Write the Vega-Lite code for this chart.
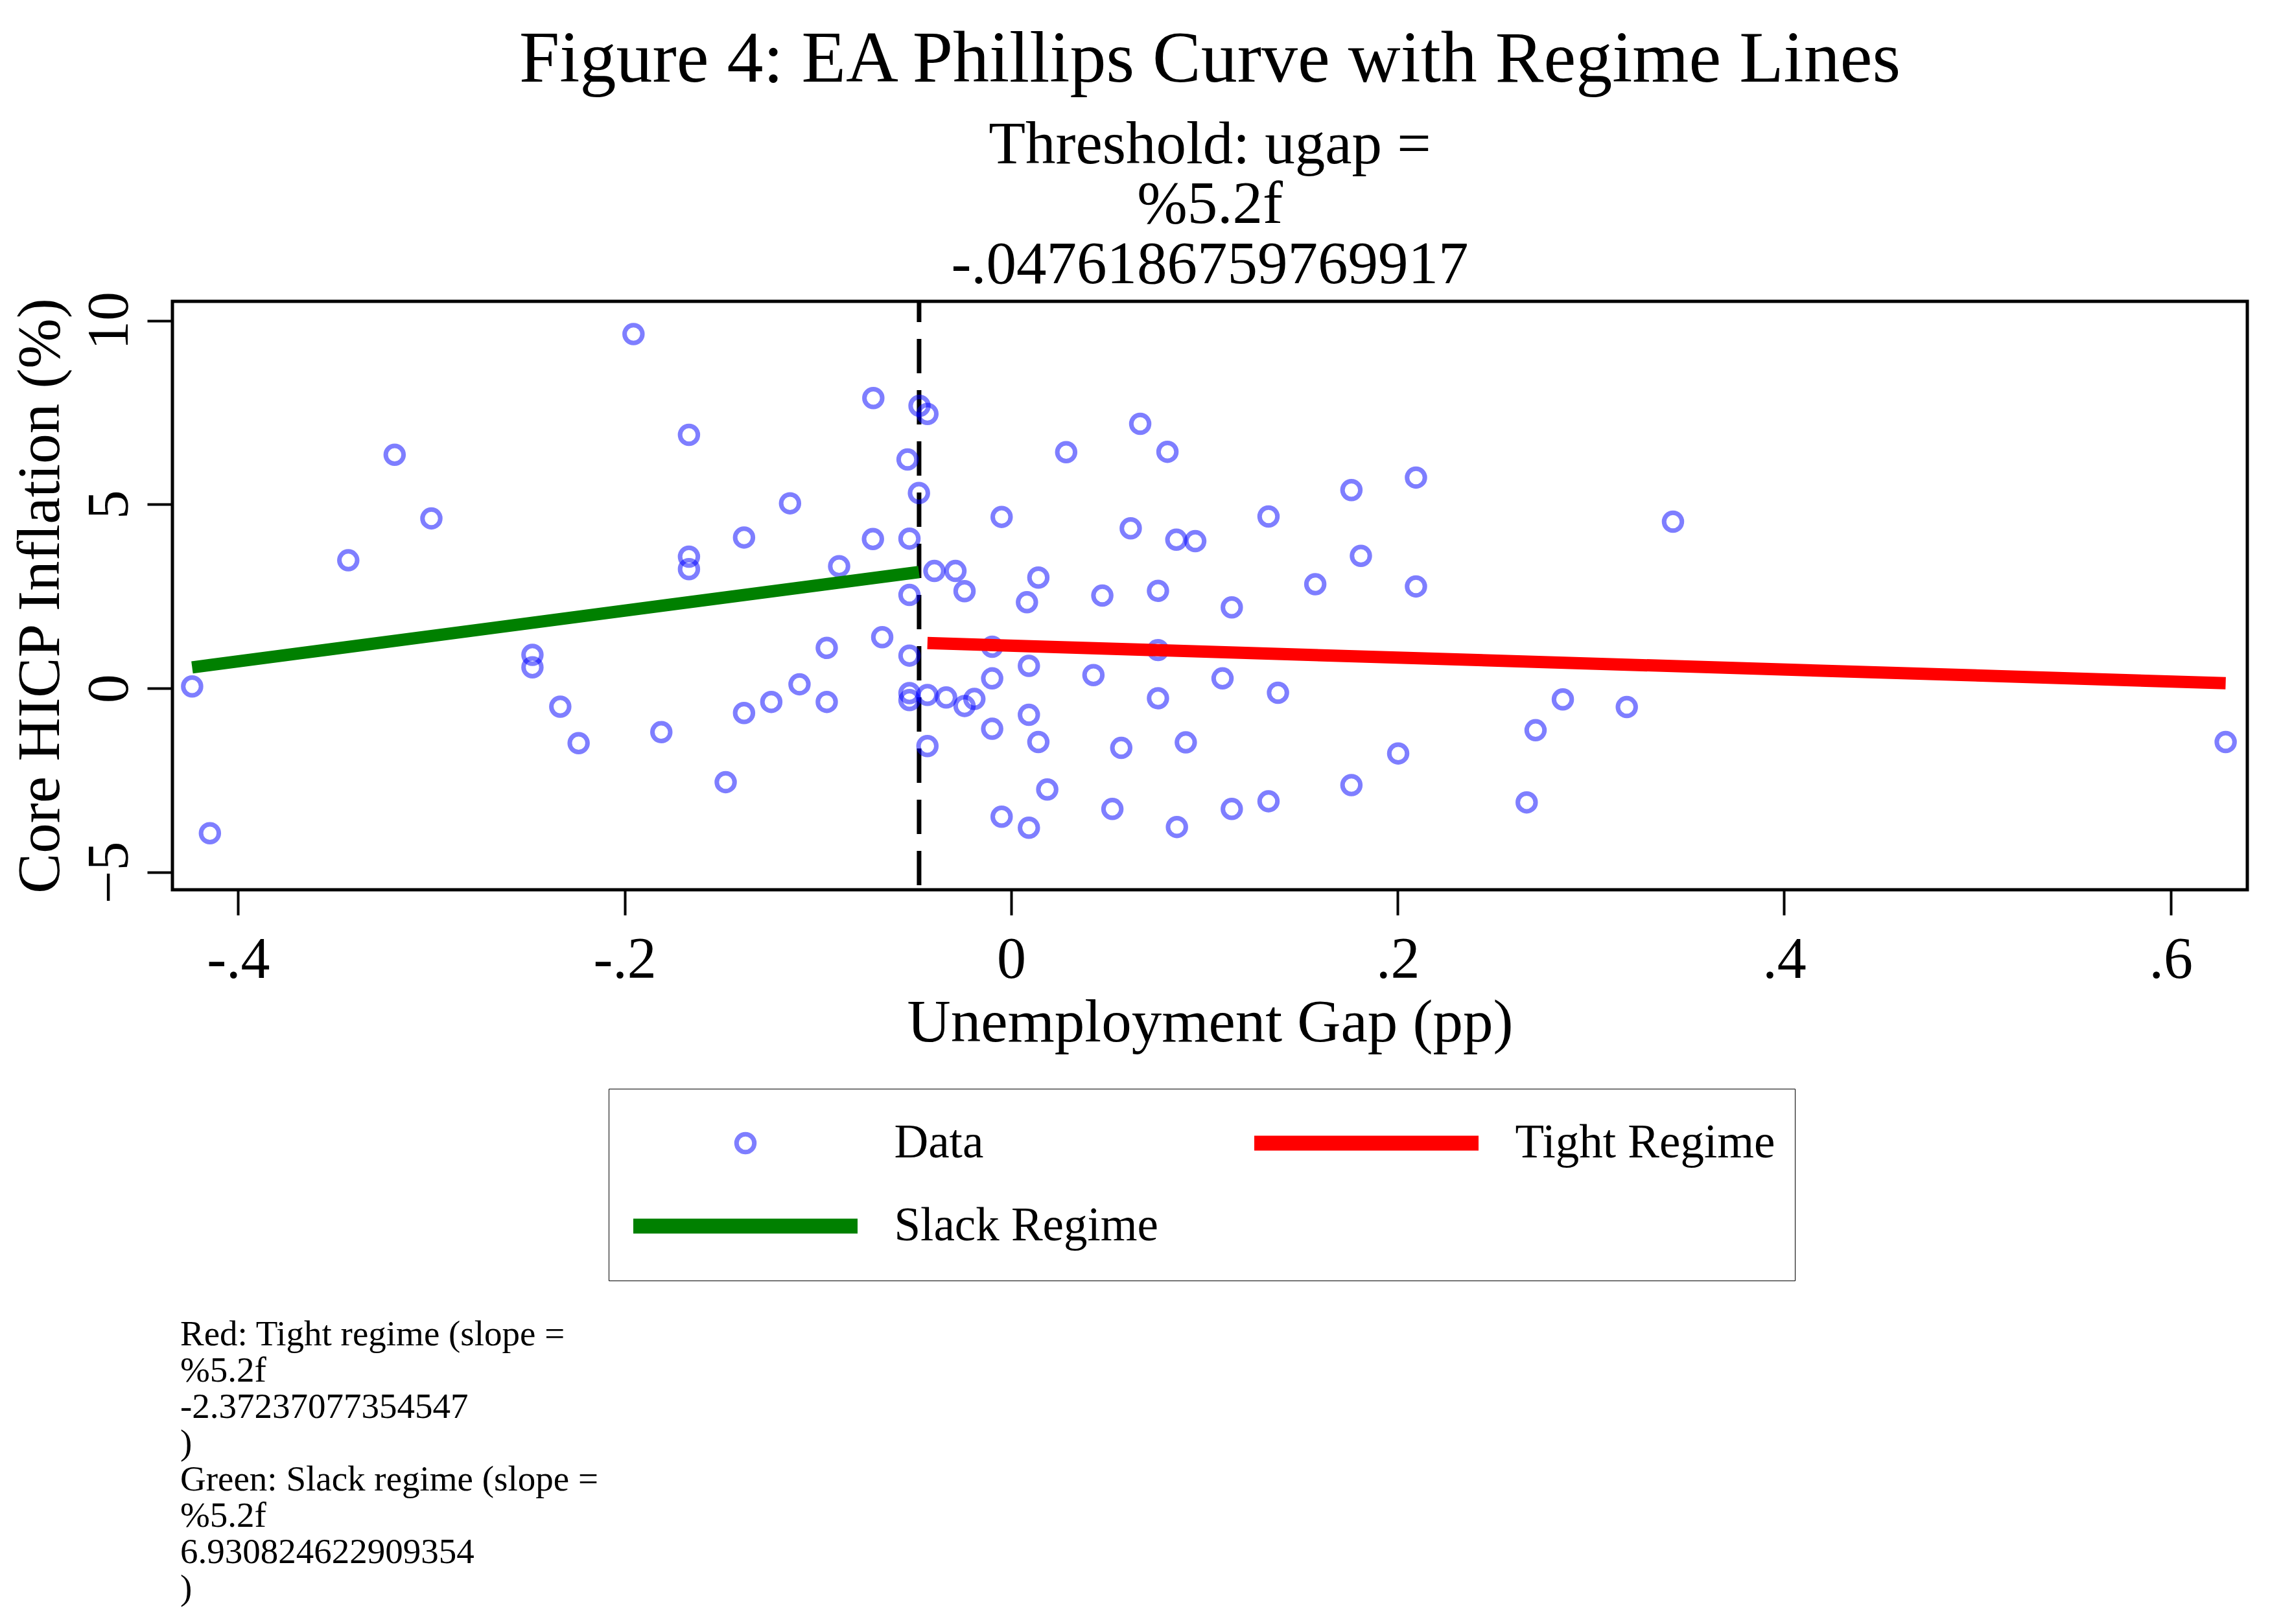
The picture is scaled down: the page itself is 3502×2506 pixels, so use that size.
{
  "$schema": "https://vega.github.io/schema/vega-lite/v6.json",
  "background": "white",
  "padding": {"left": 13, "top": 33, "right": 0, "bottom": 0},
  "spacing": 404,
  "config": {
    "font": "Liberation Serif",
    "view": {"stroke": "black", "strokeWidth": 5},
    "axis": {
      "grid": false,
      "domain": false,
      "tickColor": "black",
      "tickWidth": 4,
      "tickSize": 39,
      "labelColor": "black",
      "titleColor": "black",
      "labelFont": "Liberation Serif",
      "titleFont": "Liberation Serif",
      "titleFontWeight": "normal",
      "labelFontSize": 90,
      "titleFontSize": 93
    }
  },
  "datasets": {
    "obs": [
      {"series": "Data", "gap": -0.1954, "infl": 9.63},
      {"series": "Data", "gap": -0.0713, "infl": 7.89},
      {"series": "Data", "gap": -0.0474, "infl": 7.68},
      {"series": "Data", "gap": -0.0433, "infl": 7.46},
      {"series": "Data", "gap": -0.1667, "infl": 6.89},
      {"series": "Data", "gap": -0.319, "infl": 6.35},
      {"series": "Data", "gap": -0.0536, "infl": 6.22},
      {"series": "Data", "gap": -0.300, "infl": 4.62},
      {"series": "Data", "gap": -0.1144, "infl": 5.03},
      {"series": "Data", "gap": -0.0477, "infl": 5.31},
      {"series": "Data", "gap": -0.1382, "infl": 4.10},
      {"series": "Data", "gap": -0.0715, "infl": 4.06},
      {"series": "Data", "gap": -0.0526, "infl": 4.07},
      {"series": "Data", "gap": -0.343, "infl": 3.48},
      {"series": "Data", "gap": -0.1667, "infl": 3.58},
      {"series": "Data", "gap": -0.1667, "infl": 3.24},
      {"series": "Data", "gap": -0.089, "infl": 3.32},
      {"series": "Data", "gap": -0.0397, "infl": 3.19},
      {"series": "Data", "gap": -0.0526, "infl": 2.54},
      {"series": "Data", "gap": -0.2477, "infl": 0.91},
      {"series": "Data", "gap": -0.2477, "infl": 0.57},
      {"series": "Data", "gap": -0.0667, "infl": 1.39},
      {"series": "Data", "gap": -0.0954, "infl": 1.10},
      {"series": "Data", "gap": -0.0526, "infl": 0.89},
      {"series": "Data", "gap": -0.4238, "infl": 0.05},
      {"series": "Data", "gap": -0.2333, "infl": -0.50},
      {"series": "Data", "gap": -0.1095, "infl": 0.11},
      {"series": "Data", "gap": -0.1241, "infl": -0.37},
      {"series": "Data", "gap": -0.0954, "infl": -0.37},
      {"series": "Data", "gap": -0.1382, "infl": -0.67},
      {"series": "Data", "gap": -0.0526, "infl": -0.13},
      {"series": "Data", "gap": -0.0526, "infl": -0.32},
      {"series": "Data", "gap": -0.0433, "infl": -0.18},
      {"series": "Data", "gap": -0.181, "infl": -1.19},
      {"series": "Data", "gap": -0.2238, "infl": -1.49},
      {"series": "Data", "gap": -0.0433, "infl": -1.57},
      {"series": "Data", "gap": -0.1477, "infl": -2.55},
      {"series": "Data", "gap": -0.4146, "infl": -3.94},
      {"series": "Data", "gap": -0.0288, "infl": 3.19},
      {"series": "Data", "gap": -0.0241, "infl": 2.64},
      {"series": "Data", "gap": -0.0336, "infl": -0.25},
      {"series": "Data", "gap": -0.0241, "infl": -0.48},
      {"series": "Data", "gap": -0.0190, "infl": -0.29},
      {"series": "Data", "gap": -0.0098, "infl": 1.13},
      {"series": "Data", "gap": -0.0098, "infl": 0.27},
      {"series": "Data", "gap": -0.0098, "infl": -1.10},
      {"series": "Data", "gap": -0.0049, "infl": 4.66},
      {"series": "Data", "gap": -0.0049, "infl": -3.49},
      {"series": "Data", "gap": 0.0082, "infl": 2.34},
      {"series": "Data", "gap": 0.0092, "infl": 0.61},
      {"series": "Data", "gap": 0.0092, "infl": -0.72},
      {"series": "Data", "gap": 0.0092, "infl": -3.79},
      {"series": "Data", "gap": 0.0141, "infl": 3.01},
      {"series": "Data", "gap": 0.0141, "infl": -1.46},
      {"series": "Data", "gap": 0.0187, "infl": -2.75},
      {"series": "Data", "gap": 0.0285, "infl": 6.42},
      {"series": "Data", "gap": 0.0426, "infl": 0.36},
      {"series": "Data", "gap": 0.0472, "infl": 2.52},
      {"series": "Data", "gap": 0.0524, "infl": -3.28},
      {"series": "Data", "gap": 0.0570, "infl": -1.62},
      {"series": "Data", "gap": 0.0619, "infl": 4.35},
      {"series": "Data", "gap": 0.0668, "infl": 7.19},
      {"series": "Data", "gap": 0.0760, "infl": 2.65},
      {"series": "Data", "gap": 0.0760, "infl": 1.04},
      {"series": "Data", "gap": 0.0760, "infl": -0.27},
      {"series": "Data", "gap": 0.0809, "infl": 6.43},
      {"series": "Data", "gap": 0.0858, "infl": -3.77},
      {"series": "Data", "gap": 0.0855, "infl": 4.04},
      {"series": "Data", "gap": 0.0953, "infl": 4.00},
      {"series": "Data", "gap": 0.0904, "infl": -1.47},
      {"series": "Data", "gap": 0.1094, "infl": 0.27},
      {"series": "Data", "gap": 0.1142, "infl": 2.20},
      {"series": "Data", "gap": 0.1142, "infl": -3.28},
      {"series": "Data", "gap": 0.1332, "infl": 4.67},
      {"series": "Data", "gap": 0.1332, "infl": -3.07},
      {"series": "Data", "gap": 0.1381, "infl": -0.12},
      {"series": "Data", "gap": 0.1574, "infl": 2.83},
      {"series": "Data", "gap": 0.1761, "infl": 5.39},
      {"series": "Data", "gap": 0.1761, "infl": -2.63},
      {"series": "Data", "gap": 0.1810, "infl": 3.60},
      {"series": "Data", "gap": 0.2003, "infl": -1.77},
      {"series": "Data", "gap": 0.2095, "infl": 5.73},
      {"series": "Data", "gap": 0.2095, "infl": 2.77},
      {"series": "Data", "gap": 0.2668, "infl": -3.10},
      {"series": "Data", "gap": 0.2714, "infl": -1.14},
      {"series": "Data", "gap": 0.2855, "infl": -0.30},
      {"series": "Data", "gap": 0.3186, "infl": -0.51},
      {"series": "Data", "gap": 0.3425, "infl": 4.53},
      {"series": "Data", "gap": 0.6285, "infl": -1.46}
    ],
    "regimes": [
      {"series": "Slack Regime", "gap": -0.4238, "infl": 0.57},
      {"series": "Slack Regime", "gap": -0.0477, "infl": 3.16},
      {"series": "Tight Regime", "gap": -0.0433, "infl": 1.23},
      {"series": "Tight Regime", "gap": 0.6285, "infl": 0.14}
    ]
  },
  "vconcat": [
    {
      "width": 3201,
      "height": 908,
      "title": {
        "text": "Figure 4: EA Phillips Curve with Regime Lines",
        "subtitle": ["Threshold: ugap =", "%5.2f", "-.0476186759769917"],
        "anchor": "middle",
        "frame": "group",
        "font": "Liberation Serif",
        "fontSize": 112,
        "fontWeight": "normal",
        "color": "black",
        "subtitleFont": "Liberation Serif",
        "subtitleFontSize": 93,
        "subtitleLineHeight": 92.5,
        "subtitleColor": "black",
        "subtitlePadding": 29,
        "offset": -8
      },
      "layer": [
        {
          "data": {"values": [{"gap": -0.0476186759769917}]},
          "mark": {"type": "rule", "color": "black", "strokeWidth": 7, "strokeDash": [53, 26], "strokeDashOffset": 21},
          "encoding": {
            "x": {"field": "gap", "type": "quantitative"}
          }
        },
        {
          "data": {"name": "obs"},
          "mark": {"type": "point", "filled": false},
          "encoding": {
            "x": {
              "field": "gap",
              "type": "quantitative",
              "scale": {"domain": [-0.434, 0.6397], "nice": false, "zero": false},
              "axis": {
                "values": [-0.4, -0.2, 0, 0.2, 0.4, 0.6],
                "labelExpr": "datum.value == 0 ? '0' : (datum.value < 0 ? '-' : '') + '.' + format(abs(datum.value) * 10, 'd')",
                "labelPadding": 25,
                "labelFlush": false,
                "title": "Unemployment Gap (pp)",
                "titlePadding": 7
              }
            },
            "y": {
              "field": "infl",
              "type": "quantitative",
              "scale": {"domain": [-5.476, 10.52], "nice": false, "zero": false},
              "axis": {
                "values": [-5, 0, 5, 10],
                "format": "d",
                "labelAngle": 270,
                "labelAlign": "center",
                "labelBaseline": "alphabetic",
                "labelPadding": 31,
                "title": "Core HICP Inflation (%)",
                "titleBaseline": "alphabetic",
                "titlePadding": 34
              }
            },
            "color": {
              "field": "series",
              "type": "nominal",
              "scale": {"domain": ["Data", "Tight Regime", "Slack Regime"], "range": ["#0000ff", "#ff0000", "#008000"]},
              "legend": {
                "title": null,
                "orient": "none",
                "direction": "horizontal",
                "legendX": 673,
                "legendY": 1215,
                "columns": 2,
                "columnPadding": 140,
                "rowPadding": 20,
                "padding": 30,
                "strokeColor": "black",
                "clipHeight": 108,
                "symbolOffset": -3.5,
                "labelFont": "Liberation Serif",
                "labelFontSize": 73,
                "labelColor": "black",
                "labelOffset": 45,
                "labelLimit": 0
              }
            },
            "shape": {
              "field": "series",
              "type": "nominal",
              "scale": {"domain": ["Data", "Tight Regime", "Slack Regime"], "range": ["circle", "stroke", "stroke"]}
            },
            "size": {
              "field": "series",
              "type": "nominal",
              "scale": {"type": "ordinal", "domain": ["Data", "Tight Regime", "Slack Regime"], "range": [756, 119716, 119716]}
            },
            "strokeWidth": {
              "field": "series",
              "type": "nominal",
              "scale": {"type": "ordinal", "domain": ["Data", "Tight Regime", "Slack Regime"], "range": [7, 23, 23]}
            },
            "opacity": {
              "field": "series",
              "type": "nominal",
              "scale": {"type": "ordinal", "domain": ["Data", "Tight Regime", "Slack Regime"], "range": [0.5, 1, 1]}
            }
          }
        },
        {
          "data": {"name": "regimes"},
          "transform": [{"filter": "datum.series === 'Slack Regime'"}],
          "mark": {"type": "line", "color": "#008000", "strokeWidth": 19, "strokeCap": "butt"},
          "encoding": {
            "x": {"field": "gap", "type": "quantitative"},
            "y": {"field": "infl", "type": "quantitative"}
          }
        },
        {
          "data": {"name": "regimes"},
          "transform": [{"filter": "datum.series === 'Tight Regime'"}],
          "mark": {"type": "line", "color": "#ff0000", "strokeWidth": 19, "strokeCap": "butt"},
          "encoding": {
            "x": {"field": "gap", "type": "quantitative"},
            "y": {"field": "infl", "type": "quantitative"}
          }
        }
      ]
    },
    {
      "width": 3201,
      "height": 1,
      "view": {"stroke": null},
      "data": {"values": []},
      "mark": "point",
      "title": {
        "text": ["Red: Tight regime (slope =", "%5.2f", "-2.37237077354547", ")", "Green: Slack regime (slope =", "%5.2f", "6.930824622909354", ")"],
        "anchor": "start",
        "frame": "group",
        "orient": "top",
        "font": "Liberation Serif",
        "fontSize": 55,
        "fontWeight": "normal",
        "lineHeight": 56,
        "color": "black",
        "dx": 12,
        "offset": 0
      }
    }
  ]
}
